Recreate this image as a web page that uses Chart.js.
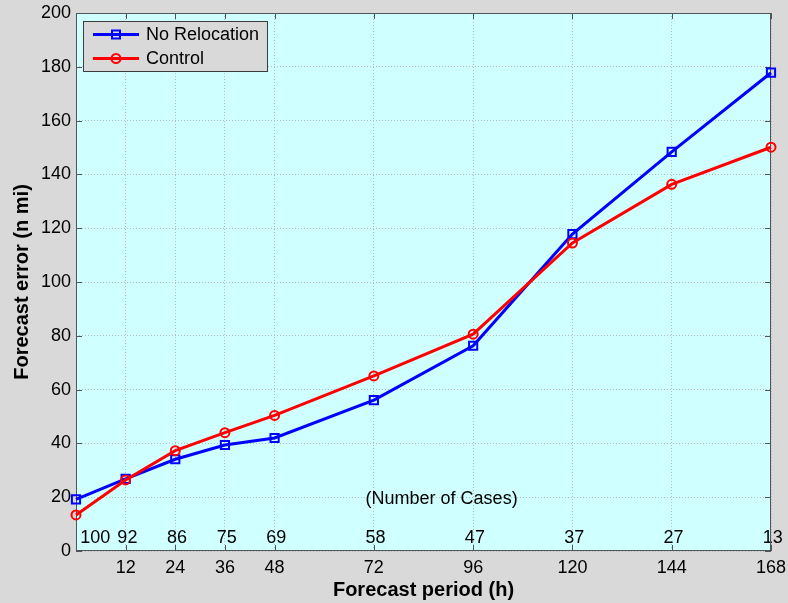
<!DOCTYPE html>
<html>
<head>
<meta charset="utf-8">
<script src="https://cdn.jsdelivr.net/npm/chart.js@4/dist/chart.umd.min.js"></script>
<style>
  html, body { margin: 0; padding: 0; background: #d9d9d9; }
  canvas { display: block; }
</style>
</head>
<body>
<canvas id="c" width="788" height="603"></canvas>
<script>
// Forecast track error by lead time
const hours        = [0, 12, 24, 36, 48, 72, 96, 120, 144, 168];
const noRelocation = [19.2, 26.8, 34.1, 39.4, 42.0, 56.1, 76.3, 117.8, 148.4, 177.8];
const control      = [13.4, 26.4, 37.3, 44.0, 50.4, 65.1, 80.6, 114.5, 136.3, 150.1];
const caseCounts   = [100, 92, 86, 75, 69, 58, 47, 37, 27, 13];
const xTickHours   = [12, 24, 36, 48, 72, 96, 120, 144, 168];
const yTickValues  = [0, 20, 40, 60, 80, 100, 120, 140, 160, 180, 200];

const FIG_BG = '#d9d9d9';
const PLOT_BG = '#d0ffff';
const AXIS_COLOR = '#505555';
const FONT = '"Liberation Sans", Arial, Helvetica, sans-serif';

const toPoints = (ys) => hours.map((h, i) => ({ x: h, y: ys[i] }));

function drawMarker(ctx, style, x, y, color) {
  ctx.save();
  ctx.strokeStyle = color;
  ctx.lineWidth = 2;
  ctx.beginPath();
  if (style === 'rect') {
    ctx.rect(x - 4, y - 4, 8, 8);
  } else {
    ctx.arc(x, y, 4.5, 0, Math.PI * 2);
  }
  ctx.stroke();
  ctx.restore();
}

const decorations = {
  id: 'decorations',
  beforeDraw(chart) {
    const { ctx, chartArea: a } = chart;
    ctx.save();
    ctx.fillStyle = FIG_BG;
    ctx.fillRect(0, 0, chart.width, chart.height);
    ctx.fillStyle = PLOT_BG;
    ctx.fillRect(a.left, a.top, a.right - a.left, a.bottom - a.top);
    ctx.restore();
  },
  beforeDatasetsDraw(chart) {
    const { ctx, chartArea: a, scales: { x, y } } = chart;
    ctx.save();

    // case counts along the bottom of the plot
    ctx.font = '18px ' + FONT;
    ctx.fillStyle = '#000';
    ctx.textAlign = 'left';
    ctx.textBaseline = 'middle';
    hours.forEach((h, i) => {
      const px = x.getPixelForValue(Math.max(h - 2, 1));
      ctx.fillText(String(caseCounts[i]), px, a.bottom - 13);
    });
    ctx.fillText('(Number of Cases)', x.getPixelForValue(70), y.getPixelForValue(19.2));

    // axes box with inward tick marks
    ctx.strokeStyle = AXIS_COLOR;
    ctx.lineWidth = 1;
    ctx.strokeRect(a.left + 0.5, a.top + 0.5, a.right - a.left - 1, a.bottom - a.top - 1);
    ctx.beginPath();
    const tl = 6;
    yTickValues.forEach(v => {
      const py = Math.round(y.getPixelForValue(v)) + 0.5;
      ctx.moveTo(a.left, py); ctx.lineTo(a.left + tl, py);
      ctx.moveTo(a.right, py); ctx.lineTo(a.right - tl, py);
    });
    xTickHours.forEach(v => {
      const px = Math.round(x.getPixelForValue(v)) + 0.5;
      ctx.moveTo(px, a.bottom); ctx.lineTo(px, a.bottom - tl);
      ctx.moveTo(px, a.top); ctx.lineTo(px, a.top + tl);
    });
    ctx.stroke();
    ctx.restore();
  },
  afterDraw(chart) {
    const { ctx } = chart;
    ctx.save();
    // legend box
    ctx.fillStyle = FIG_BG;
    ctx.fillRect(83.5, 21.5, 184, 50);
    ctx.strokeStyle = '#3c3c3c';
    ctx.lineWidth = 1;
    ctx.strokeRect(83.5, 21.5, 184, 50);
    const items = chart.data.datasets.map(ds => ({ label: ds.label, color: ds.borderColor, style: ds.pointStyle }));
    items.forEach((it, i) => {
      const cy = 34.5 + i * 24;
      ctx.strokeStyle = it.color;
      ctx.lineWidth = 3;
      ctx.beginPath();
      ctx.moveTo(93, cy); ctx.lineTo(139, cy);
      ctx.stroke();
      drawMarker(ctx, it.style, 116, cy, it.color);
      ctx.fillStyle = '#000';
      ctx.font = '18px ' + FONT;
      ctx.textAlign = 'left';
      ctx.textBaseline = 'middle';
      ctx.fillText(it.label, 146, cy + 1);
    });
    ctx.restore();
  }
};

new Chart(document.getElementById('c'), {
  type: 'line',
  data: {
    datasets: [
      {
        label: 'No Relocation',
        data: toPoints(noRelocation),
        borderColor: '#0000ff',
        borderWidth: 3,
        pointStyle: 'rect',
        pointRadius: 5.8,
        pointBorderWidth: 2,
        pointBackgroundColor: 'rgba(0,0,0,0)',
        pointBorderColor: '#0000ff',
        clip: false,
        order: 2
      },
      {
        label: 'Control',
        data: toPoints(control),
        borderColor: '#ff0000',
        borderWidth: 3,
        pointStyle: 'circle',
        pointRadius: 4.5,
        pointBorderWidth: 2,
        pointBackgroundColor: 'rgba(0,0,0,0)',
        pointBorderColor: '#ff0000',
        clip: false,
        order: 1
      }
    ]
  },
  options: {
    responsive: false,
    animation: false,
    layout: { padding: { top: 13, right: 17, left: 0, bottom: 0 } },
    plugins: { legend: { display: false }, tooltip: { enabled: false } },
    elements: { line: { tension: 0 } },
    scales: {
      x: {
        type: 'linear',
        min: 0,
        max: 168,
        afterBuildTicks(scale) { scale.ticks = xTickHours.map(v => ({ value: v })); },
        afterFit(scale) { scale.height = 52; scale.paddingLeft = 0; scale.paddingRight = 0; },
        ticks: {
          autoSkip: false,
          maxRotation: 0,
          padding: 6,
          color: '#000',
          font: { family: FONT, size: 18 },
          callback: (v) => String(v)
        },
        grid: { color: '#b4bcbc', lineWidth: 1, drawTicks: false },
        border: { display: false, dash: [1, 2] },
        title: {
          display: true,
          text: 'Forecast period (h)',
          color: '#000',
          font: { family: FONT, size: 20, weight: 'bold' },
          padding: { top: 0, bottom: 1 }
        }
      },
      y: {
        min: 0,
        max: 200,
        afterBuildTicks(scale) { scale.ticks = yTickValues.map(v => ({ value: v })); },
        afterFit(scale) { scale.width = 76; scale.paddingTop = 0; scale.paddingBottom = 0; },
        ticks: {
          padding: 5,
          color: '#000',
          font: { family: FONT, size: 18 }
        },
        grid: { color: '#b4bcbc', lineWidth: 1, drawTicks: false },
        border: { display: false, dash: [1, 2] },
        title: {
          display: true,
          text: 'Forecast error (n mi)',
          color: '#000',
          font: { family: FONT, size: 20, weight: 'bold' },
          padding: { top: 10, bottom: 0 }
        }
      }
    }
  },
  plugins: [decorations]
});
</script>
</body>
</html>
